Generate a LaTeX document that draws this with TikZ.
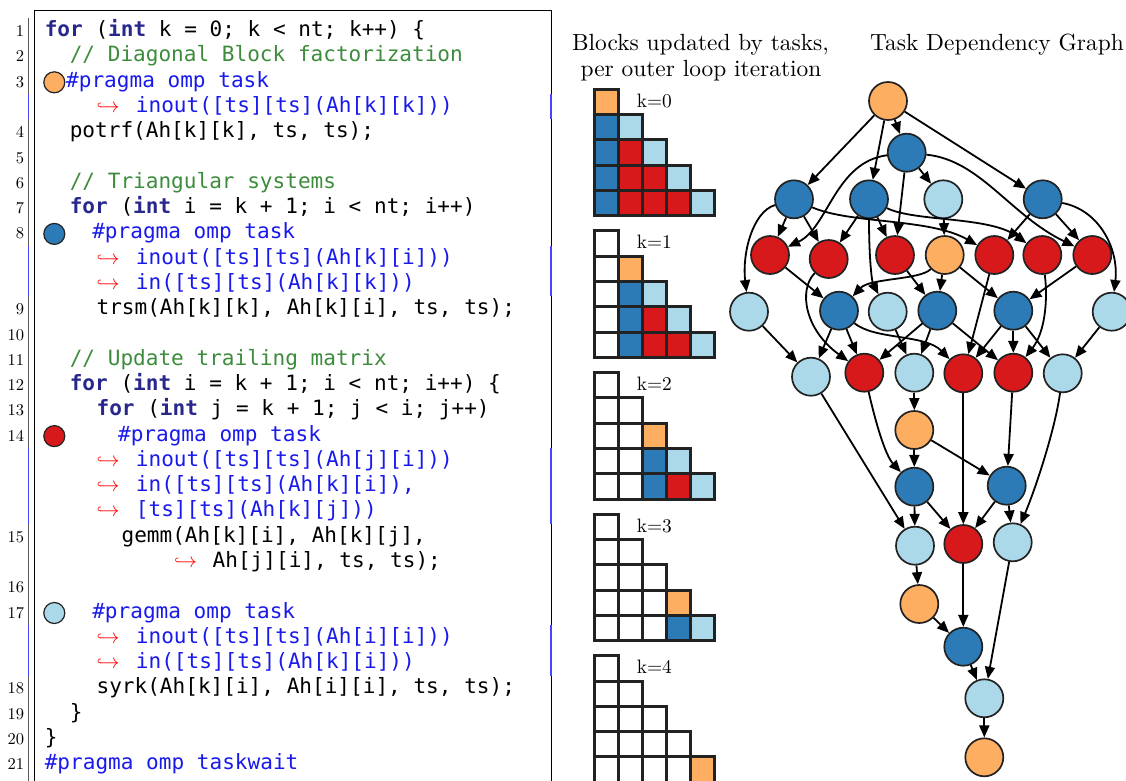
\documentclass[tikz,border=0pt]{standalone}
\usepackage{fontspec}
\usepackage{graphicx}
\newfontfamily\codefont{DejaVu Sans Mono}
\usetikzlibrary{arrows.meta}
\definecolor{tOrange}{RGB}{253,174,97}
\definecolor{tBlue}{RGB}{44,123,182}
\definecolor{tRed}{RGB}{215,25,28}
\definecolor{tLight}{RGB}{171,217,233}
\definecolor{kwcol}{RGB}{40,40,140}
\definecolor{cmcol}{RGB}{60,140,60}
\definecolor{prcol}{RGB}{25,25,235}
\definecolor{edgegray}{RGB}{34,34,34}
\definecolor{selblue}{RGB}{70,70,255}
\newcommand\kwd[1]{\textcolor{kwcol}{\bfseries #1}}
\newcommand\prg[1]{\textcolor{prcol}{#1}}
\newcommand\cmt[1]{\textcolor{cmcol}{#1}}
\newcommand\bigrm[2]{\scalebox{#1}{\fontsize{10}{12}\selectfont #2}}
\begin{document}
\begin{tikzpicture}[x=1pt,y=-1pt,
  code/.style={anchor=base west, inner sep=0, font=\codefont\fontsize{21.06}{25}\selectfont},
  hook/.style={anchor=base west, inner sep=0, font=\fontsize{21}{22}\selectfont, text=red},
  lnum/.style={anchor=base east, inner sep=0},
  hdr/.style={anchor=base, inner sep=0},
  klabel/.style={anchor=base west, inner sep=0},
  task/.style={circle, draw=edgegray, line width=1.7, minimum size=38, inner sep=0},
  cdot/.style={circle, draw=edgegray, line width=1.2, minimum size=21, inner sep=0},
  cell/.style={draw=edgegray, line width=3},
  arr/.style={-{Triangle[length=12,width=10]}, line width=1.8, black},
  frameline/.style={line width=1, black},
  selline/.style={line width=1.2, selblue}
]
\useasboundingbox (0,0) rectangle (1126,780);

% ---------- code frame ----------
\draw[frameline] (34.6,782) -- (34.6,10) -- (551,10) -- (551,782);
\draw[frameline, gray!70!black] (28.6,18.4) -- (28.6,782);
\foreach \r in {3,9,10,17,18,19,24,25}{
  \draw[selline] (28.6,{31+25.276*\r-12.64}) -- (28.6,{31+25.276*\r+12.64});
  \draw[selline] (551,{31+25.276*\r-12.64}) -- (551,{31+25.276*\r+12.64});
}

% ---------- line numbers ----------
\node[lnum] (n1) at (24.3,36.7) {\bigrm{1.65}{1}};
\node[lnum] (n2) at (24.3,61.98) {\bigrm{1.65}{2}};
\node[lnum] (n3) at (24.3,87.25) {\bigrm{1.65}{3}};
\node[lnum] (n4) at (24.3,137.8) {\bigrm{1.65}{4}};
\node[lnum] (n5) at (24.3,163.08) {\bigrm{1.65}{5}};
\node[lnum] (n6) at (24.3,188.36) {\bigrm{1.65}{6}};
\node[lnum] (n7) at (24.3,213.63) {\bigrm{1.65}{7}};
\node[lnum] (n8) at (24.3,238.91) {\bigrm{1.65}{8}};
\node[lnum] (n9) at (24.3,314.74) {\bigrm{1.65}{9}};
\node[lnum] (n10) at (24.3,340.01) {\bigrm{1.65}{10}};
\node[lnum] (n11) at (24.3,365.29) {\bigrm{1.65}{11}};
\node[lnum] (n12) at (24.3,390.56) {\bigrm{1.65}{12}};
\node[lnum] (n13) at (24.3,415.84) {\bigrm{1.65}{13}};
\node[lnum] (n14) at (24.3,441.12) {\bigrm{1.65}{14}};
\node[lnum] (n15) at (24.3,542.22) {\bigrm{1.65}{15}};
\node[lnum] (n16) at (24.3,592.77) {\bigrm{1.65}{16}};
\node[lnum] (n17) at (24.3,618.05) {\bigrm{1.65}{17}};
\node[lnum] (n18) at (24.3,693.88) {\bigrm{1.65}{18}};
\node[lnum] (n19) at (24.3,719.15) {\bigrm{1.65}{19}};
\node[lnum] (n20) at (24.3,744.43) {\bigrm{1.65}{20}};
\node[lnum] (n21) at (24.3,769.7) {\bigrm{1.65}{21}};

% ---------- code lines ----------
\node[code] (l0) at (44.6,36.7) {\kwd{for} (\kwd{int} k = 0; k < nt; k++) \{};
\node[code] (l1) at (69.6,61.98) {\cmt{// Diagonal Block factorization}};
\node[cdot, fill=tOrange] (d3) at (54.3,82.3) {};
\node[code] (l2) at (66,87.25) {\prg{\#pragma omp task}};
\node[hook] (h3) at (96.4,112.53) {$\hookrightarrow$};
\node[code] (l3) at (135.7,112.53) {\prg{inout([ts][ts](Ah[k][k]))}};
\node[code] (l4) at (69.6,137.8) {potrf(Ah[k][k], ts, ts);};
\node[code] (l6) at (69.6,188.36) {\cmt{// Triangular systems}};
\node[code] (l7) at (69.6,213.63) {\kwd{for} (\kwd{int} i = k + 1; i < nt; i++)};
\node[cdot, fill=tBlue] (d8) at (54.3,233.9) {};
\node[code] (l8) at (92.1,238.91) {\prg{\#pragma omp task}};
\node[hook] (h9) at (96.4,264.18) {$\hookrightarrow$};
\node[code] (l9) at (135.7,264.18) {\prg{inout([ts][ts](Ah[k][i]))}};
\node[hook] (h10) at (96.4,289.46) {$\hookrightarrow$};
\node[code] (l10) at (135.7,289.46) {\prg{in([ts][ts](Ah[k][k]))}};
\node[code] (l11) at (96.4,314.74) {trsm(Ah[k][k], Ah[k][i], ts, ts);};
\node[code] (l13) at (69.6,365.29) {\cmt{// Update trailing matrix}};
\node[code] (l14) at (69.6,390.56) {\kwd{for} (\kwd{int} i = k + 1; i < nt; i++) \{};
\node[code] (l15) at (96.4,415.84) {\kwd{for} (\kwd{int} j = k + 1; j < i; j++)};
\node[cdot, fill=tRed] (d14) at (54.3,436.1) {};
\node[code] (l16) at (117.9,441.12) {\prg{\#pragma omp task}};
\node[hook] (h17) at (96.4,466.39) {$\hookrightarrow$};
\node[code] (l17) at (135.7,466.39) {\prg{inout([ts][ts](Ah[j][i]))}};
\node[hook] (h18) at (96.4,491.67) {$\hookrightarrow$};
\node[code] (l18) at (135.7,491.67) {\prg{in([ts][ts](Ah[k][i]),}};
\node[hook] (h19) at (96.4,516.94) {$\hookrightarrow$};
\node[code] (l19) at (135.7,516.94) {\prg{[ts][ts](Ah[k][j]))}};
\node[code] (l20) at (121.4,542.22) {gemm(Ah[k][i], Ah[k][j],};
\node[hook] (h21) at (174,567.5) {$\hookrightarrow$};
\node[code] (l21) at (212.5,567.5) {Ah[j][i], ts, ts);};
\node[cdot, fill=tLight] (d17) at (54.3,613.0) {};
\node[code] (l23) at (92.1,618.05) {\prg{\#pragma omp task}};
\node[hook] (h24) at (96.4,643.32) {$\hookrightarrow$};
\node[code] (l24) at (135.7,643.32) {\prg{inout([ts][ts](Ah[i][i]))}};
\node[hook] (h25) at (96.4,668.6) {$\hookrightarrow$};
\node[code] (l25) at (135.7,668.6) {\prg{in([ts][ts](Ah[k][i]))}};
\node[code] (l26) at (96.4,693.88) {syrk(Ah[k][i], Ah[i][i], ts, ts);};
\node[code] (l27) at (69.6,719.15) {\}};
\node[code] (l28) at (44.6,744.43) {\}};
\node[code] (l29) at (44.6,769.7) {\prg{\#pragma omp taskwait}};

% ---------- headers ----------
\node[hdr] (hd1) at (700.5,50) {\bigrm{2.34}{Blocks updated by tasks,}};
\node[hdr] (hd2) at (701,76) {\bigrm{2.34}{per outer loop iteration}};
\node[hdr, anchor=base west] (hd3) at (870,50) {\bigrm{2.34}{Task Dependency Graph}};

% ---------- block grids ----------
\foreach \k in {0,...,4}{
  \pgfmathsetmacro\gt{89.3+141.6*\k}
  \foreach \r in {0,...,4}{
    \foreach \c in {0,...,\r}{
      \ifnum\c<\k \def\cc{white}\else
        \ifnum\c=\k \ifnum\r=\k \def\cc{tOrange}\else \def\cc{tBlue}\fi
        \else \ifnum\c=\r \def\cc{tLight}\else \def\cc{tRed}\fi\fi
      \fi
      \path[cell, fill=\cc] ({594.3+23.94*\c},{\gt+25.3*\r}) rectangle ++(23.94,25.3);
    }
  }
  \node[klabel] (klab\k) at (636.7,{\gt+18}) {\bigrm{1.94}{k=\k}};
}

% ---------- task graph nodes ----------
\node[task, fill=tOrange] (A) at (888,101) {};
\node[task, fill=tBlue] (B) at (906.7,152.7) {};
\node[task, fill=tBlue] (C1) at (794,199.3) {};
\node[task, fill=tBlue] (C2) at (869,199.3) {};
\node[task, fill=tLight] (C3) at (943.3,199.3) {};
\node[task, fill=tBlue] (C4) at (1042.7,199.3) {};
\node[task, fill=tRed] (D1) at (770,255) {};
\node[task, fill=tRed] (D2) at (828.7,259) {};
\node[task, fill=tRed] (D3) at (895,255) {};
\node[task, fill=tOrange] (D4) at (944.7,255) {};
\node[task, fill=tRed] (D5) at (994.3,255) {};
\node[task, fill=tRed] (D6) at (1042.3,255) {};
\node[task, fill=tRed] (D7) at (1092.3,255) {};
\node[task, fill=tLight] (E1) at (749,311.7) {};
\node[task, fill=tBlue] (E2) at (839,310.7) {};
\node[task, fill=tLight] (E3) at (887.7,311.7) {};
\node[task, fill=tBlue] (E4) at (937.3,310.7) {};
\node[task, fill=tBlue] (E5) at (1013.3,310.7) {};
\node[task, fill=tLight] (E6) at (1111.7,311.7) {};
\node[task, fill=tLight] (F1) at (811,376.7) {};
\node[task, fill=tRed] (F2) at (864.3,372.7) {};
\node[task, fill=tLight] (F3) at (914.3,372.7) {};
\node[task, fill=tRed] (F4) at (963.3,373.3) {};
\node[task, fill=tRed] (F5) at (1013.3,372.7) {};
\node[task, fill=tLight] (F6) at (1062.7,373.3) {};
\node[task, fill=tOrange] (G) at (914.3,430) {};
\node[task, fill=tBlue] (H1) at (914.3,486.7) {};
\node[task, fill=tBlue] (H2) at (1006.7,485.7) {};
\node[task, fill=tLight] (I1) at (915,545.7) {};
\node[task, fill=tRed] (I2) at (963.3,544) {};
\node[task, fill=tLight] (I3) at (1012.7,542.3) {};
\node[task, fill=tOrange] (J) at (919.3,604) {};
\node[task, fill=tBlue] (K) at (963.3,646.7) {};
\node[task, fill=tLight] (L) at (984.3,698.3) {};
\node[task, fill=tOrange] (M) at (984.3,757.3) {};

% ---------- straight edges ----------
\foreach \s/\t in {A/B, A/C1, A/C2, A/C4, B/C3, B/D3, C1/D1, C1/D2, C2/D2, C2/D3,
  C3/D4, C4/D5, C4/D7, D1/E2, D3/E4, D4/E4, D4/E5, D5/F4, D7/E5,
  E1/F1, E2/F1, E2/F2, E3/F3, E4/F2, E4/F3, E4/F5, E5/F4, E5/F5, E5/F6, E6/F6,
  F1/I1, F3/G, F4/I2, F5/H2, G/H1, G/H2, H1/I1, H1/I2, H2/I2, H2/I3,
  I1/J, I2/K, I3/L, J/K, K/L, L/M}
  \draw[arr] (\s) -- (\t);

% ---------- curved edges ----------
\draw[arr] (B) .. controls (835,162) and (828,228) .. (D1);
\draw[arr] (B) .. controls (980,160) and (1010,215) .. (D7);
\draw[arr] (C1) .. controls (850,224) and (930,218) .. (D5);
\draw[arr] (C2) .. controls (915,222) and (990,216) .. (D6);
\draw[arr] (C1) .. controls (752,212) and (742,255) .. (E1);
\draw[arr] (C4) .. controls (1100,210) and (1119,250) .. (E6);
\draw[arr] (C2) .. controls (869,260) and (872,282) .. (E3);
\draw[arr] (D2) .. controls (798,290) and (805,330) .. (F2);
\draw[arr] (D4) .. controls (920,280) and (870,278) .. (E2);
\draw[arr] (E2) .. controls (875,340) and (925,334) .. (F4);
\draw[arr] (D6) .. controls (1048,300) and (1045,332) .. (F5);
\draw[arr] (F6) .. controls (1055,430) and (1035,490) .. (I3);
\draw[arr] (F2) .. controls (875,420) and (885,455) .. (H1);
\end{tikzpicture}
\end{document}
